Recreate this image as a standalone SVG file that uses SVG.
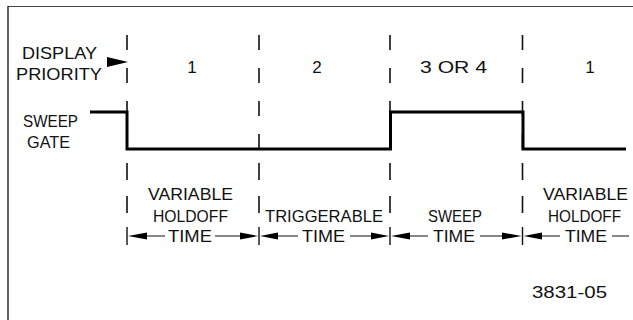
<svg xmlns="http://www.w3.org/2000/svg" width="633" height="320" viewBox="0 0 633 320">
<style>
text{font-family:"Liberation Sans",Arial,sans-serif;font-size:17px;fill:#111}
.dash{stroke:#111;stroke-width:1.6;fill:none;stroke-dasharray:15 18}
.dashb{stroke:#111;stroke-width:1.6;fill:none;stroke-dasharray:17 16}
.dim{stroke:#111;stroke-width:1.2;fill:none}
.tick{stroke:#111;stroke-width:1.4}
.gate{stroke:#000;stroke-width:3;fill:none;stroke-linejoin:miter}
.ah{fill:#000}
</style>
<rect width="633" height="320" fill="#fff"/>
<g id="frame">
<line x1="8" y1="6.5" x2="633" y2="6.5" stroke="#444" stroke-width="1"/>
<line x1="8" y1="6" x2="8" y2="320" stroke="#222" stroke-width="1.4"/>
</g>
<g id="labels-left">
<text x="22" y="59" textLength="75" lengthAdjust="spacingAndGlyphs">DISPLAY</text>
<text x="16" y="80" textLength="86" lengthAdjust="spacingAndGlyphs">PRIORITY</text>
<polygon class="ah" points="107,57 128,62 107,67"/>
<text x="23" y="127" textLength="55" lengthAdjust="spacingAndGlyphs">SWEEP</text>
<text x="27" y="148" textLength="43" lengthAdjust="spacingAndGlyphs">GATE</text>
</g>
<g id="priorities">
<text x="192" y="73" text-anchor="middle">1</text>
<text x="317" y="73" text-anchor="middle">2</text>
<text x="420" y="73" textLength="67" lengthAdjust="spacingAndGlyphs">3 OR 4</text>
<text x="590" y="73" text-anchor="middle">1</text>
</g>
<g id="connectors">
<line class="dash" x1="127" y1="35" x2="127" y2="149"/>
<line class="dash" x1="259" y1="35" x2="259" y2="149"/>
<line class="dash" x1="390" y1="35" x2="390" y2="149"/>
<line class="dash" x1="522.5" y1="35" x2="522.5" y2="149"/>
<path class="gate" d="M90,112 H127 V149 H390.5 V112 H523 V149 H626"/>
<line class="dashb" x1="127" y1="163" x2="127" y2="227"/>
<line class="dashb" x1="259" y1="163" x2="259" y2="227"/>
<line class="dashb" x1="390" y1="163" x2="390" y2="227"/>
<line class="dashb" x1="522.5" y1="163" x2="522.5" y2="227"/>
<line class="tick" x1="127" y1="227" x2="127" y2="245"/>
<line class="tick" x1="259" y1="227" x2="259" y2="245"/>
<line class="tick" x1="390" y1="227" x2="390" y2="245"/>
<line class="tick" x1="522.5" y1="227" x2="522.5" y2="245"/>
<path class="dim" d="M146,236 H165 M215,236 H241 M278,236 H298 M350,236 H371 M409,236 H428 M480,236 H503 M541,236 H560 M612,236 H629"/>
<polygon class="ah" points="128,236 147,232.5 147,239.5"/>
<polygon class="ah" points="258,236 240,232.5 240,239.5"/>
<polygon class="ah" points="260,236 278,232.5 278,239.5"/>
<polygon class="ah" points="389,236 371,232.5 371,239.5"/>
<polygon class="ah" points="391,236 410,232.5 410,239.5"/>
<polygon class="ah" points="521.5,236 502,232.5 502,239.5"/>
<polygon class="ah" points="523.5,236 542,232.5 542,239.5"/>
</g>
<g id="labels-bottom">
<text x="148" y="200" textLength="85" lengthAdjust="spacingAndGlyphs">VARIABLE</text>
<text x="153" y="222" textLength="75" lengthAdjust="spacingAndGlyphs">HOLDOFF</text>
<text x="168" y="242" textLength="44" lengthAdjust="spacingAndGlyphs">TIME</text>
<text x="265" y="222" textLength="118" lengthAdjust="spacingAndGlyphs">TRIGGERABLE</text>
<text x="302" y="242" textLength="43" lengthAdjust="spacingAndGlyphs">TIME</text>
<text x="428" y="222" textLength="54" lengthAdjust="spacingAndGlyphs">SWEEP</text>
<text x="433" y="242" textLength="42" lengthAdjust="spacingAndGlyphs">TIME</text>
<text x="543" y="200" textLength="85" lengthAdjust="spacingAndGlyphs">VARIABLE</text>
<text x="548" y="222" textLength="73" lengthAdjust="spacingAndGlyphs">HOLDOFF</text>
<text x="565" y="242" textLength="42" lengthAdjust="spacingAndGlyphs">TIME</text>
<text x="532" y="298" textLength="75" lengthAdjust="spacingAndGlyphs">3831-05</text>
</g>
</svg>
